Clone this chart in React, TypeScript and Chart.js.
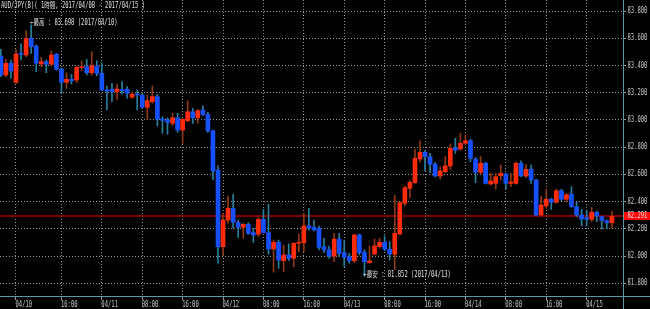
import React, { useEffect, useRef } from 'react';
import { Chart, registerables } from 'chart.js';

Chart.register(...registerables);

// ---- data (hourly candles, 04/10 05:00 -> 04/15 05:00) ----
const opens = [
  83.469, 83.330, 83.416, 83.276, 83.488, 83.477, 83.599, 83.543, 83.411, 83.428,
  83.409, 83.482, 83.374, 83.276, 83.298, 83.293, 83.384, 83.391, 83.347, 83.396,
  83.342, 83.220, 83.225, 83.207, 83.225, 83.225, 83.166, 83.190, 83.183, 83.093,
  83.134, 83.171, 83.007, 82.999, 82.975, 83.016, 82.926, 82.994, 83.060, 83.016,
  83.073, 83.041, 82.919, 82.632, 82.069, 82.265, 82.351, 82.248, 82.211, 82.233,
  82.172, 82.160, 82.270, 82.172, 82.052, 82.101, 81.966, 82.008, 81.984, 82.094,
  82.098, 82.221, 82.211, 82.204, 82.069, 82.045, 82.000, 82.125, 82.025, 81.995,
  81.966, 82.155, 82.028, 81.951, 82.015, 82.069, 82.101, 82.050, 82.013, 82.162,
  82.388, 82.498, 82.539, 82.713, 82.762, 82.730, 82.674, 82.588, 82.620, 82.662,
  82.796, 82.786, 82.828, 82.847, 82.711, 82.615, 82.681, 82.529, 82.534, 82.590,
  82.603, 82.534, 82.534, 82.681, 82.588, 82.637, 82.559, 82.302, 82.368, 82.417,
  82.395, 82.480, 82.417, 82.454, 82.363, 82.302, 82.282, 82.270, 82.321, 82.289,
  82.260, 82.245,
];
const highs = [
  83.519, 83.445, 83.440, 83.514, 83.558, 83.655, 83.698, 83.550, 83.460, 83.440,
  83.506, 83.489, 83.381, 83.347, 83.335, 83.391, 83.435, 83.445, 83.501, 83.435,
  83.420, 83.249, 83.269, 83.264, 83.281, 83.244, 83.200, 83.220, 83.195, 83.183,
  83.249, 83.190, 83.024, 83.016, 83.049, 83.049, 83.007, 83.141, 83.085, 83.078,
  83.104, 83.056, 82.926, 82.662, 82.314, 82.441, 82.454, 82.265, 82.241, 82.245,
  82.204, 82.282, 82.343, 82.380, 82.118, 82.118, 82.081, 82.089, 82.096, 82.160,
  82.314, 82.351, 82.265, 82.221, 82.130, 82.074, 82.167, 82.167, 82.118, 82.020,
  82.162, 82.162, 82.045, 82.074, 82.125, 82.130, 82.147, 82.105, 82.446, 82.399,
  82.515, 82.554, 82.784, 82.847, 82.774, 82.755, 82.686, 82.656, 82.730, 82.823,
  82.865, 82.902, 82.889, 82.858, 82.725, 82.730, 82.689, 82.608, 82.608, 82.669,
  82.608, 82.608, 82.693, 82.700, 82.674, 82.669, 82.564, 82.441, 82.490, 82.424,
  82.490, 82.490, 82.461, 82.510, 82.399, 82.343, 82.338, 82.358, 82.331, 82.294,
  82.265, 82.326,
];
const lows = [
  83.317, 83.315, 83.306, 83.269, 83.445, 83.464, 83.489, 83.354, 83.391, 83.347,
  83.396, 83.367, 83.195, 83.232, 83.264, 83.273, 83.362, 83.330, 83.330, 83.323,
  83.215, 83.073, 83.134, 83.151, 83.190, 83.159, 83.159, 83.073, 83.085, 83.005,
  83.122, 82.955, 82.902, 82.894, 82.958, 82.909, 82.828, 82.987, 82.975, 82.975,
  83.031, 82.909, 82.559, 81.947, 82.008, 82.241, 82.204, 82.135, 82.130, 82.160,
  82.101, 82.142, 82.172, 82.013, 81.881, 81.910, 81.885, 81.966, 81.922, 82.032,
  82.032, 82.192, 82.184, 82.045, 82.025, 81.984, 81.959, 81.995, 81.922, 81.947,
  81.951, 82.008, 81.852, 81.947, 82.008, 82.057, 82.040, 81.971, 81.898, 82.155,
  82.368, 82.429, 82.534, 82.689, 82.627, 82.613, 82.583, 82.564, 82.613, 82.637,
  82.755, 82.779, 82.816, 82.693, 82.539, 82.603, 82.529, 82.522, 82.493, 82.559,
  82.493, 82.510, 82.529, 82.583, 82.578, 82.534, 82.294, 82.294, 82.351, 82.343,
  82.388, 82.407, 82.399, 82.358, 82.290, 82.221, 82.221, 82.252, 82.252, 82.199,
  82.199, 82.204,
];
const closes = [
  83.330, 83.416, 83.359, 83.484, 83.481, 83.599, 83.538, 83.416, 83.428, 83.409,
  83.477, 83.372, 83.276, 83.298, 83.288, 83.386, 83.391, 83.347, 83.398, 83.342,
  83.220, 83.212, 83.207, 83.227, 83.215, 83.195, 83.190, 83.183, 83.093, 83.141,
  83.171, 83.005, 82.997, 82.982, 83.016, 82.926, 83.005, 83.060, 83.016, 83.068,
  83.041, 82.919, 82.625, 82.069, 82.265, 82.351, 82.248, 82.211, 82.233, 82.167,
  82.155, 82.270, 82.172, 82.052, 82.101, 81.971, 82.008, 81.984, 82.094, 82.101,
  82.221, 82.208, 82.192, 82.064, 82.045, 82.000, 82.125, 82.020, 81.991, 81.966,
  82.155, 82.025, 81.959, 81.966, 82.074, 82.101, 82.050, 82.013, 82.167, 82.392,
  82.502, 82.542, 82.718, 82.762, 82.730, 82.674, 82.588, 82.625, 82.662, 82.792,
  82.779, 82.828, 82.847, 82.718, 82.615, 82.681, 82.534, 82.551, 82.583, 82.608,
  82.534, 82.544, 82.681, 82.588, 82.637, 82.559, 82.302, 82.375, 82.417, 82.395,
  82.480, 82.417, 82.449, 82.363, 82.302, 82.272, 82.270, 82.321, 82.294, 82.260,
  82.245, 82.291,
];

const xTickIndex = [3, 12, 20, 28, 36, 44, 52, 60, 68, 76, 84, 92, 100, 108, 116];
const xTickLabels = ['04/10', '16:00', '04/11', '08:00', '16:00', '04/12', '08:00', '16:00', '04/13', '08:00', '16:00', '04/14', '08:00', '16:00', '04/15'];
const yTickValues = [81.8, 82.0, 82.2, 82.4, 82.6, 82.8, 83.0, 83.2, 83.4, 83.6, 83.8];

const lastPrice = 82.291;
const titleText = 'AUD/JPY(B)( 1時間, 2017/04/08 - 2017/04/15 )';
const highIndex = 6;
const highValue = 83.698;
const highText = '←最高 : 83.698 (2017/04/10)';
const lowIndex = 72;
const lowValue = 81.852;
const lowText = '←最安 : 81.852 (2017/04/13)';

// ---- styles ----
const UP_BODY = '#ff2c0c';
const UP_WICK = '#8e3a12';
const DOWN_BODY = '#1650ff';
const DOWN_WICK = '#2a7f9c';
const GRID = '#9a9a9a';
const AXIS = '#5f9a9c';
const TEXT = '#c8c8c8';
const FONT = '8px "DejaVu Sans Mono", "Noto Sans CJK JP", monospace';
const SX = 0.69;

function drawText(ctx: CanvasRenderingContext2D, text: string, x: number, y: number, color: string) {
  ctx.save();
  ctx.font = FONT;
  ctx.fillStyle = color;
  ctx.textBaseline = 'middle';
  ctx.textAlign = 'left';
  ctx.translate(x, y);
  ctx.scale(SX, 1);
  ctx.fillText(text, 0, 0);
  ctx.restore();
}

const overlay = {
  id: 'overlay',
  beforeDraw(chart: any) {
    const { ctx, width, height } = chart;
    ctx.save();
    ctx.fillStyle = '#000000';
    ctx.fillRect(0, 0, width, height);
    ctx.restore();
  },
  beforeDatasetsDraw(chart: any) {
    const { ctx, chartArea, scales } = chart;
    const py = Math.round(scales.y.getPixelForValue(lastPrice));
    ctx.save();
    ctx.strokeStyle = '#7c0000';
    ctx.lineWidth = 2;
    ctx.beginPath();
    ctx.moveTo(chartArea.left, py);
    ctx.lineTo(chartArea.right, py);
    ctx.stroke();
    ctx.restore();
  },
  afterDraw(chart: any) {
    const { ctx, chartArea, scales, width, height } = chart;
    const xs = scales.x;
    const ys = scales.y;
    // axis lines
    ctx.save();
    ctx.strokeStyle = AXIS;
    ctx.lineWidth = 1;
    ctx.beginPath();
    ctx.moveTo(Math.round(chartArea.right) + 0.5, 0);
    ctx.lineTo(Math.round(chartArea.right) + 0.5, height);
    ctx.moveTo(0, Math.round(chartArea.bottom) + 0.5);
    ctx.lineTo(width, Math.round(chartArea.bottom) + 0.5);
    ctx.stroke();
    ctx.restore();

    // y labels
    yTickValues.forEach((v) => {
      drawText(ctx, v.toFixed(3), chartArea.right + 4.5, ys.getPixelForValue(v), TEXT);
    });
    // x labels
    xTickIndex.forEach((v, k) => {
      drawText(ctx, xTickLabels[k], xs.getPixelForValue(v) - 0.5, chartArea.bottom + 8.5, TEXT);
    });

    // price label
    const py = Math.round(ys.getPixelForValue(lastPrice));
    ctx.save();
    ctx.fillStyle = '#ff0a0a';
    ctx.fillRect(chartArea.right + 1, py - 4, width - chartArea.right - 1, 8);
    ctx.restore();
    drawText(ctx, lastPrice.toFixed(3), chartArea.right + 4.5, py, '#ffe0e0');

    // title
    drawText(ctx, titleText, 1, 5.5, '#e0e0e0');

    // high / low notes
    drawText(ctx, highText, xs.getPixelForValue(highIndex) - 1, ys.getPixelForValue(highValue) - 1.5, '#e0e0e0');
    drawText(ctx, lowText, xs.getPixelForValue(lowIndex) - 1, ys.getPixelForValue(lowValue) - 1, '#e0e0e0');
  },
};

const X_MIN = -0.168;
const X_MAX = 123.2;
const Y_MIN = 81.7067;
const Y_MAX = 83.8808;

export default function App() {
  const ref = useRef<HTMLCanvasElement | null>(null);
  useEffect(() => {
    if (!ref.current) return;
    const idx = opens.map((_, i) => i);
    const isUp = (i: number) => closes[i] >= opens[i];
    const chart = new Chart(ref.current, {
      type: 'bar',
      data: {
        datasets: [
          {
            label: 'wick',
            data: idx.map((i) => ({ x: i, y: [lows[i], highs[i]] })) as any,
            backgroundColor: idx.map((i) => (isUp(i) ? UP_WICK : DOWN_WICK)),
            borderWidth: 0,
            barThickness: 1,
            grouped: false,
            order: 2,
          } as any,
          {
            label: 'body',
            data: idx.map((i) => ({ x: i, y: [opens[i], closes[i]] })) as any,
            backgroundColor: idx.map((i) => (isUp(i) ? UP_BODY : DOWN_BODY)),
            borderWidth: 0,
            barThickness: 4,
            minBarLength: 1,
            grouped: false,
            order: 1,
          } as any,
        ],
      },
      options: {
        animation: false,
        responsive: false,
        maintainAspectRatio: false,
        layout: { padding: 0 },
        plugins: {
          legend: { display: false },
          tooltip: { enabled: false },
          title: { display: false },
        },
        scales: {
          x: {
            type: 'linear',
            position: 'bottom',
            min: X_MIN,
            max: X_MAX,
            offset: false,
            afterBuildTicks: (s: any) => {
              s.ticks = xTickIndex.map((v) => ({ value: v }));
            },
            afterFit: (s: any) => {
              s.height = 13;
            },
            ticks: { display: false },
            grid: {
              color: GRID,
              lineWidth: 1,
              drawTicks: true,
              tickLength: 4,
              tickColor: GRID,
              tickBorderDash: [],
              offset: false,
            },
            border: { display: false, dash: [1, 2] },
          },
          y: {
            type: 'linear',
            position: 'right',
            min: Y_MIN,
            max: Y_MAX,
            afterBuildTicks: (s: any) => {
              s.ticks = yTickValues.map((v) => ({ value: v }));
            },
            afterFit: (s: any) => {
              s.width = 27;
            },
            ticks: { display: false },
            grid: {
              color: GRID,
              lineWidth: 1,
              drawTicks: true,
              tickLength: 3,
              tickColor: GRID,
              tickBorderDash: [],
            },
            border: { display: false, dash: [1, 2] },
          },
        },
      } as any,
      plugins: [overlay],
    });
    return () => chart.destroy();
  }, []);
  return (
    <div style={{ position: 'absolute', left: 0, top: 0, width: 650, height: 309, background: '#000' }}>
      <canvas ref={ref} width={650} height={309} style={{ display: 'block' }} />
    </div>
  );
}
